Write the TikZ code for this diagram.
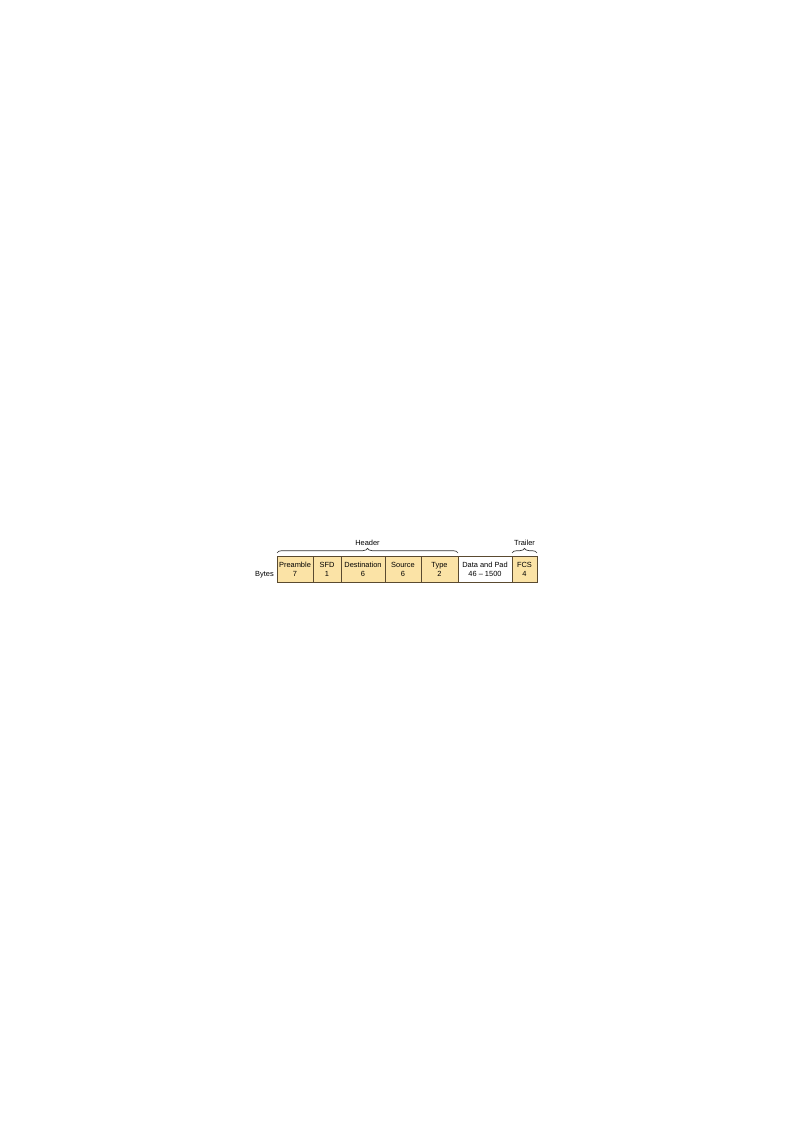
\documentclass[tikz,border=0pt]{standalone}
\usepackage{fontspec}
\setmainfont{Liberation Sans}
\usetikzlibrary{decorations.pathreplacing}
\definecolor{fieldfill}{HTML}{FBE3A6}
\definecolor{fieldline}{HTML}{5A4A30}
\begin{document}
\begin{tikzpicture}[x=0.75bp,y=-0.75bp,
  field/.style={draw=fieldline,line width=0.5pt,fill=fieldfill,minimum height=26*0.75bp,inner sep=0pt,align=center,font=\fontsize{5.6}{6.6}\selectfont},
  plain/.style={field,fill=white},
  lbl/.style={font=\fontsize{5.6}{6.6}\selectfont,inner sep=0pt},
  br/.style={decorate,decoration={brace,amplitude=3.5bp},line width=0.5pt,draw=black!80}]
\useasboundingbox (0,0) rectangle (794,1123);
\node[field,minimum width=36*0.75bp] (pre) at (295,569.5) {Preamble\\7};
\node[field,minimum width=28*0.75bp] (sfd) at (327,569.5) {SFD\\1};
\node[field,minimum width=44*0.75bp] (dst) at (363,569.5) {Destination\\6};
\node[field,minimum width=36*0.75bp] (src) at (403,569.5) {Source\\6};
\node[field,minimum width=37*0.75bp] (typ) at (439.5,569.5) {Type\\2};
\node[plain,minimum width=54*0.75bp] (dat) at (485,569.5) {Data and Pad\\46 -- 1500};
\node[field,minimum width=25*0.75bp] (fcs) at (524.5,569.5) {FCS\\4};
\node[lbl,anchor=east] (bytes) at (274,575) {Bytes};
\coordinate (hl) at (277,553);
\coordinate (hr) at (458,553);
\coordinate (tl) at (512,553);
\coordinate (tr) at (537,553);
\draw[br] (hl) -- (hr);
\draw[br] (tl) -- (tr);
\node[lbl] (header) at (367.5,543) {Header};
\node[lbl] (trailer) at (524.5,543) {Trailer};
\end{tikzpicture}
\end{document}
